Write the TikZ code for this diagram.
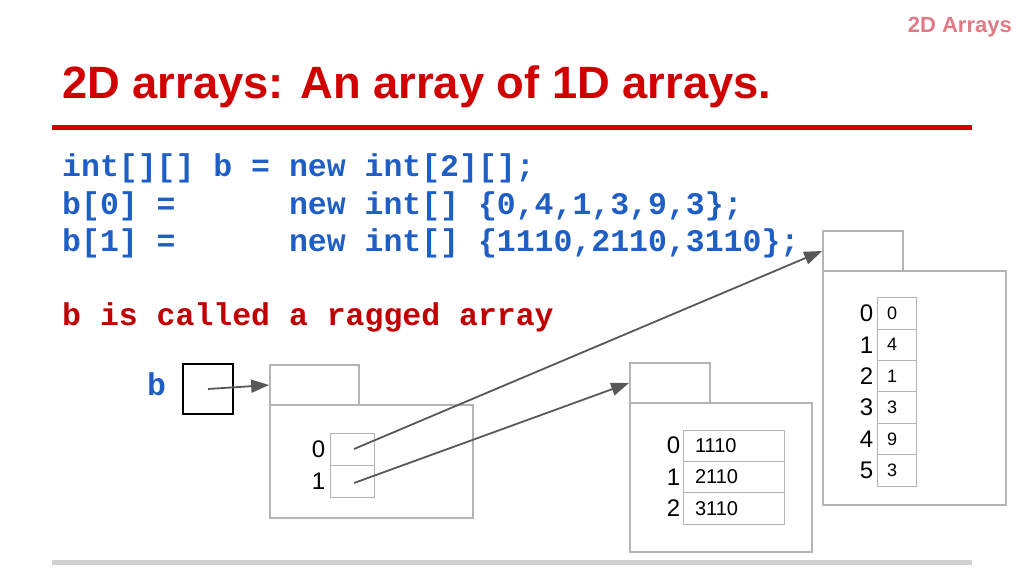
\documentclass[tikz,border=0pt]{standalone}
\usepackage{fontspec}
\setmainfont{Liberation Sans}
\setmonofont{Liberation Mono}
\usepackage{xcolor}
\usetikzlibrary{arrows.meta, positioning}

\definecolor{titlered}{HTML}{D00000}
\definecolor{pagered}{HTML}{E07A86}
\definecolor{codeblue}{HTML}{1F5EC4}
\definecolor{codered}{HTML}{C00000}
\definecolor{boxgray}{HTML}{B4B4B4}
\definecolor{arrowgray}{HTML}{585858}

\tikzset{
    txt/.style={inner sep=0, anchor=base west},
    code/.style={txt, font=\ttfamily\bfseries\fontsize{31.5}{38}\selectfont},
    frame/.style={draw=boxgray, line width=1.8pt, inner sep=0},
    cell/.style={draw=boxgray, line width=1pt, inner sep=0, minimum height=31.4pt},
    idx/.style={inner sep=1pt, font=\fontsize{24}{24}\selectfont},
    ref/.style={draw=arrowgray, line width=1.8pt, -{Triangle[length=18pt,width=13pt]}}
}

\begin{document}
\begin{tikzpicture}[x=1pt, y=-1pt]
                        \useasboundingbox (0, 0) rectangle (1024, 576);

                        \node[txt, anchor=base east, text=pagered, font=\bfseries\fontsize{22}{22}\selectfont] (page) at (1012, 32) {2D Arrays};
                        \node[txt, text=titlered, font=\bfseries\fontsize{45.3}{45}\selectfont] (title) at (62, 98) {2D arrays: An array of 1D arrays.};

                        \node[code, text=codeblue] (line1) at (62, 176) {int[][] b = new int[2][];};
                        \node[code, text=codeblue] (line2) at (62, 214) {b[0] =\phantom{xxxxxx}new int[] \{0,4,1,3,9,3\};};
                        \node[code, text=codeblue] (line3) at (62, 251) {b[1] =\phantom{xxxxxx}new int[] \{1110,2110,3110\};};
                        \node[code, text=codered] (ragged) at (62, 325) {b is called a ragged array};

                        \node[code, text=codeblue] (bname) at (147, 395) {b};
                        \node[draw, line width=2pt, minimum size=50pt, inner sep=0] (bref) at (208, 389) {};

                        % outer array b
                        \node[frame, minimum width=89pt, minimum height=40pt] (btab) at (314.5, 385) {};
                        \node[frame, minimum width=203pt, minimum height=113pt] (bbody) at (371.5, 461.5) {};
                        \node[cell, minimum width=44pt, minimum height=32pt, label={[idx, label distance=3pt]left:0}] (b0) at (352, 449) {};
                        \node[cell, minimum width=44pt, minimum height=32pt, label={[idx, label distance=3pt]left:1}] (b1) at (352, 481) {};

                        % b[1]
                        \node[frame, minimum width=80pt, minimum height=40pt] (ctab) at (670, 383) {};
                        \node[frame, minimum width=182pt, minimum height=149pt] (cbody) at (721, 477.5) {};
                        \foreach \v [count=\i from 0] in {1110, 2110, 3110}
                            \node[cell, text width=77pt, inner xsep=12pt, align=left, font=\fontsize{20}{20}\selectfont,
                                  label={[idx, label distance=1pt]left:\i}] (c\i) at (733.5, 445.7 + 31.33*\i) {\v};

                        % b[0]
                        \node[frame, minimum width=80pt, minimum height=40pt] (atab) at (863, 251) {};
                        \node[frame, minimum width=183pt, minimum height=234pt] (abody) at (914.5, 388) {};
                        \foreach \v [count=\i from 0] in {0, 4, 1, 3, 9, 3}
                            \node[cell, text width=19pt, inner xsep=10pt, align=left, font=\fontsize{18}{18}\selectfont,
                                  label={[idx, label distance=2pt]left:\i}] (a\i) at (896.5, 313.4 + 31.4*\i) {\v};

                        \draw[ref] (bref.center) -- (btab.west);
                        \draw[ref] ([xshift=2pt]b0.center) -- (atab.west);
                        \draw[ref] ([xshift=2pt, yshift=-2pt]b1.center) -- (ctab.west);

                        \draw[titlered, line width=5pt] (52, 127.5) -- (972, 127.5);
                        \draw[black!18, line width=5pt] (52, 562.5) -- (972, 562.5);
                    \end{tikzpicture}
\end{document}
